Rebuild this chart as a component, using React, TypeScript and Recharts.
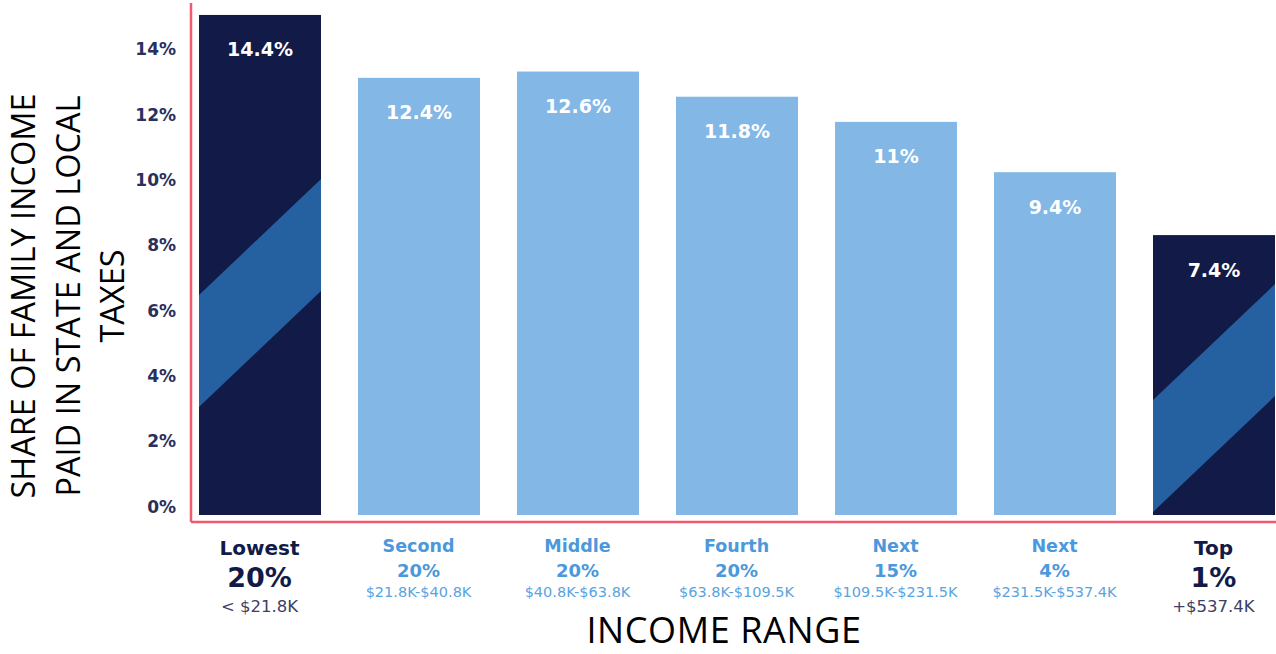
import React from "react";
import { BarChart, Bar, XAxis, YAxis, LabelList } from "recharts";

// income groups, left to right
const GROUP_NAMES = ["Lowest", "Second", "Middle", "Fourth", "Next", "Next", "Top"];
const GROUP_SHARES = ["20%", "20%", "20%", "20%", "15%", "4%", "1%"];
const INCOME_RANGES = [
  "< $21.8K",
  "$21.8K-$40.8K",
  "$40.8K-$63.8K",
  "$63.8K-$109.5K",
  "$109.5K-$231.5K",
  "$231.5K-$537.4K",
  "+$537.4K",
];
// share of family income paid in state and local taxes (%)
const TAX_SHARE = [14.4, 12.4, 12.6, 11.8, 11, 9.4, 7.4];
const Y_TICKS = [0, 2, 4, 6, 8, 10, 12, 14];
const Y_TITLE = ["SHARE OF FAMILY INCOME", "PAID IN STATE AND LOCAL", "TAXES"];
const X_TITLE = "INCOME RANGE";

const NAVY = "#121A48";
const SKY = "#82B7E6";
const STRIPE = "#2560A0";
const RED = "#F05A6E";
const TICK_NAVY = "#2A2F5C";
const LABEL_BLUE = "#4B98DC";
const GEO_FONT = "DejaVu Sans";
const TITLE_FONT = "Open Sans";

// the infographic's bars sit on a truncated axis; ticks use their own scale
const BAR_FLOOR = -1.5;
const BAR_CEIL = 14.78;
const TICK_DOMAIN = [-0.468, 15.42];

const EMPHASIZED = [0, 6];
const STRIPE_OFFSET: Record<number, number> = { 0: 108, 6: 3 };
const STRIPE_WIDTH = 112;
const STRIPE_SLOPE = 0.95;

const data = GROUP_NAMES.map((name, i) => ({
  key: `${name} ${GROUP_SHARES[i]}`,
  share: TAX_SHARE[i],
}));

const BarShape = (props: any) => {
  const { x, width, index } = props;
  const y = Math.min(props.y, props.y + props.height);
  const height = Math.abs(props.height);
  const strong = EMPHASIZED.includes(index);
  const bottom = y + height;
  const off = STRIPE_OFFSET[index];
  const clipId = `bar-clip-${index}`;
  return (
    <g>
      <rect x={x} y={y} width={width} height={height} fill={strong ? NAVY : SKY} />
      {off !== undefined && (
        <>
          <defs>
            <clipPath id={clipId}>
              <rect x={x} y={y} width={width} height={height} />
            </clipPath>
          </defs>
          <polygon
            clipPath={`url(#${clipId})`}
            fill={STRIPE}
            points={[
              [x, bottom - off],
              [x + width, bottom - off - STRIPE_SLOPE * width],
              [x + width, bottom - off - STRIPE_WIDTH - STRIPE_SLOPE * width],
              [x, bottom - off - STRIPE_WIDTH],
            ]
              .map((p) => p.join(","))
              .join(" ")}
          />
        </>
      )}
    </g>
  );
};

const CategoryTick = (props: any) => {
  const { x, y, index } = props;
  const strong = EMPHASIZED.includes(index);
  const color = strong ? NAVY : LABEL_BLUE;
  const rangeColor = strong ? "#3B4064" : "#5AA3E0";
  const rows = strong ? [26, 55, 84] : [24, 48, 70];
  const sizes = strong ? [20, 27, 16.5] : [17.5, 18, 14.5];
  return (
    <g fontFamily={GEO_FONT} textAnchor="middle">
      <text x={x} y={y + rows[0]} dominantBaseline="central" fontSize={sizes[0]} fontWeight={700} fill={color}>
        {GROUP_NAMES[index]}
      </text>
      <text x={x} y={y + rows[1]} dominantBaseline="central" fontSize={sizes[1]} fontWeight={700} fill={color}>
        {GROUP_SHARES[index]}
      </text>
      <text x={x} y={y + rows[2]} dominantBaseline="central" fontSize={sizes[2]} fill={rangeColor}>
        {INCOME_RANGES[index]}
      </text>
    </g>
  );
};

const YTitle = (props: any) => {
  const { x, y } = props.viewBox;
  const cy = y + 293;
  return (
    <g fontFamily={TITLE_FONT} fontSize={32.5} fill="#000" textAnchor="middle">
      {Y_TITLE.map((line, i) => {
        const cx = x + 35 + i * 44.5;
        return (
          <text key={line} x={cx} y={cy} transform={`rotate(-90, ${cx}, ${cy})`}>
            {line}
          </text>
        );
      })}
    </g>
  );
};

const XTitle = (props: any) => {
  const { y, height } = props.viewBox;
  return (
    <text
      x={724}
      y={y + height - 11}
      textAnchor="middle"
      fontFamily={TITLE_FONT}
      fontSize={36}
      letterSpacing={0.6}
      fill="#000"
    >
      {X_TITLE}
    </text>
  );
};

const App = () => (
  <div
    style={{
      position: "absolute",
      left: 0,
      top: 0,
      width: 1276,
      height: 654,
      overflow: "hidden",
      background: "#fff",
    }}
  >
    <BarChart width={1300} height={654} data={data} margin={{ top: 3, right: 7, bottom: 0, left: 0 }}>
      <XAxis
        dataKey="key"
        height={132}
        padding={{ left: -11, right: 0 }}
        axisLine={{ stroke: RED, strokeWidth: 2.5 }}
        tickLine={false}
        tickSize={0}
        tickMargin={0}
        interval={0}
        tick={<CategoryTick />}
        label={<XTitle />}
      />
      <YAxis
        yAxisId="ticks"
        type="number"
        domain={TICK_DOMAIN}
        allowDataOverflow
        ticks={Y_TICKS}
        width={191}
        tickFormatter={(v) => `${v}%`}
        tick={{ fill: TICK_NAVY, fontSize: 17, fontWeight: 700, fontFamily: GEO_FONT }}
        tickLine={false}
        tickSize={0}
        tickMargin={15}
        axisLine={{ stroke: RED, strokeWidth: 2.5 }}
        label={<YTitle />}
      />
      <YAxis
        yAxisId="bars"
        type="number"
        hide
        width={0}
        domain={[BAR_FLOOR, BAR_CEIL]}
        allowDataOverflow
        padding={{ top: 0, bottom: 7 }}
      />
      <Bar
        yAxisId="bars"
        dataKey={(d: any) => [BAR_FLOOR, d.share]}
        barSize={122}
        shape={BarShape}
        isAnimationActive={false}
      >
        <LabelList
          dataKey="share"
          position="insideTop"
          offset={28}
          formatter={(v: any) => `${v}%`}
          fill="#fff"
          fontSize={19}
          fontWeight={700}
          fontFamily={GEO_FONT}
        />
      </Bar>
    </BarChart>
  </div>
);

export default App;
